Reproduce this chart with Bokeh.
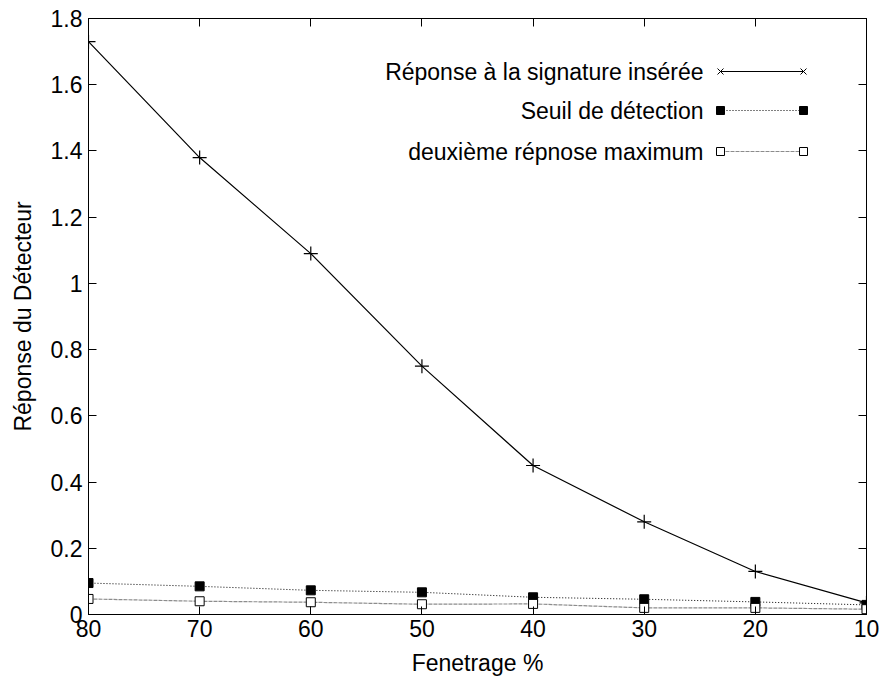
from bokeh.plotting import figure
from bokeh.models import (Range1d, LinearAxis, FixedTicker, Label, Arrow,
                          BoxAnnotation, ColumnDataSource)
from bokeh.embed import file_html
from bokeh.resources import INLINE

# Window size (%) and detector responses
fenetrage = [80, 70, 60, 50, 40, 30, 20, 10]
reponse_signature = [1.73, 1.38, 1.09, 0.75, 0.45, 0.28, 0.13, 0.035]
seuil_detection = [0.095, 0.085, 0.073, 0.067, 0.052, 0.046, 0.038, 0.029]
deuxieme_reponse = [0.047, 0.040, 0.037, 0.031, 0.032, 0.020, 0.020, 0.016]

x_ticks = [80, 70, 60, 50, 40, 30, 20, 10]
y_ticks = [0, 0.2, 0.4, 0.6, 0.8, 1.0, 1.2, 1.4, 1.6, 1.8]
y_tick_labels = {0: "0", 0.2: "0.2", 0.4: "0.4", 0.6: "0.6", 0.8: "0.8",
                 1.0: "1", 1.2: "1.2", 1.4: "1.4", 1.6: "1.6", 1.8: "1.8"}

legend_labels = ["Réponse à la signature insérée", "Seuil de détection",
                 "deuxième répnose maximum"]

FONT = "Liberation Sans"
FS = "23px"

src = ColumnDataSource(dict(x=fenetrage, sig=reponse_signature,
                            seuil=seuil_detection, deux=deuxieme_reponse))

p = figure(width=883, height=682, output_backend="svg", toolbar_location=None,
           x_range=Range1d(80, 10), y_range=Range1d(0, 1.8),
           min_border_left=88, min_border_right=17, min_border_top=18,
           min_border_bottom=68, x_axis_label="Fenetrage %",
           y_axis_label="Réponse du Détecteur")
p.grid.visible = False
p.outline_line_color = "black"
p.outline_line_width = 1
p.background_fill_color = "white"
p.border_fill_color = "white"

# main axes: inward ticks, MATLAB style
for ax in (p.xaxis[0], p.yaxis[0]):
    ax.major_tick_in = 8
    ax.major_tick_out = 0
    ax.minor_tick_line_color = None
    ax.axis_line_color = "black"
    ax.major_tick_line_color = "black"
    ax.major_label_text_font = FONT
    ax.major_label_text_font_size = FS
    ax.major_label_text_color = "black"
    ax.axis_label_text_font = FONT
    ax.axis_label_text_font_size = FS
    ax.axis_label_text_font_style = "normal"
    ax.axis_label_text_color = "black"
p.xaxis[0].ticker = FixedTicker(ticks=x_ticks)
p.yaxis[0].ticker = FixedTicker(ticks=y_ticks)
p.yaxis[0].major_label_overrides = y_tick_labels
p.xaxis[0].major_label_standoff = 5
p.yaxis[0].major_label_standoff = 6
p.xaxis[0].axis_label_standoff = 10
p.yaxis[0].axis_label_standoff = 12

# mirrored axes on top and right, ticks only
top = LinearAxis(ticker=FixedTicker(ticks=x_ticks),
                 major_label_overrides={t: "" for t in x_ticks})
right = LinearAxis(ticker=FixedTicker(ticks=y_ticks),
                   major_label_overrides={t: "" for t in y_ticks})
for ax in (top, right):
    ax.major_tick_in = 8
    ax.major_tick_out = 0
    ax.minor_tick_line_color = None
    ax.major_tick_line_color = "black"
    ax.axis_line_color = "black"
    ax.major_label_standoff = 0
p.add_layout(top, "above")
p.add_layout(right, "right")

# series
p.line("x", "sig", source=src, line_color="black", line_width=1.2)
p.scatter("x", "sig", source=src, marker="cross", size=14,
          line_color="black", line_width=1.2)
p.line("x", "seuil", source=src, line_color="black", line_width=1,
       line_dash="1 2")
p.scatter("x", "seuil", source=src, marker="square", size=9,
          fill_color="black", line_color="black")
p.line("x", "deux", source=src, line_color="#8c8c8c", line_width=1.2,
       line_dash="4 1")
p.scatter("x", "deux", source=src, marker="square", size=9,
          fill_color="white", line_color="black", line_width=1)

# legend (screen units, text on the left, sample on the right)
rows_y = [543, 504, 463]
text_right = 615
sample_l, sample_r = 632, 715
styles = [dict(line_color="black", line_width=1.2, line_dash="solid"),
          dict(line_color="black", line_width=1, line_dash="1 2"),
          dict(line_color="#8c8c8c", line_width=1.2, line_dash="4 1")]
for i, (lab, yy, st) in enumerate(zip(legend_labels, rows_y, styles)):
    p.add_layout(Label(x=text_right, y=yy, x_units="screen", y_units="screen",
                       text=lab, text_align="right", text_baseline="middle",
                       text_font=FONT, text_font_size=FS, text_color="black"))
    p.add_layout(Arrow(end=None, x_start=sample_l, y_start=yy,
                       x_end=sample_r, y_end=yy, start_units="screen",
                       end_units="screen", **st))
    for xx in (sample_l, sample_r):
        if i == 0:
            d = 3
            for dy in (d, -d):
                p.add_layout(Arrow(end=None, x_start=xx - d, y_start=yy - dy,
                                   x_end=xx + d, y_end=yy + dy,
                                   start_units="screen", end_units="screen",
                                   line_color="black", line_width=1))
        else:
            h = 4
            p.add_layout(BoxAnnotation(
                left=xx - h, right=xx + h, bottom=yy - h, top=yy + h,
                left_units="screen", right_units="screen",
                top_units="screen", bottom_units="screen",
                fill_color="black" if i == 1 else "white", fill_alpha=1,
                line_color="black", line_width=1, line_alpha=1))

open("out.html", "w").write(file_html(p, INLINE))
